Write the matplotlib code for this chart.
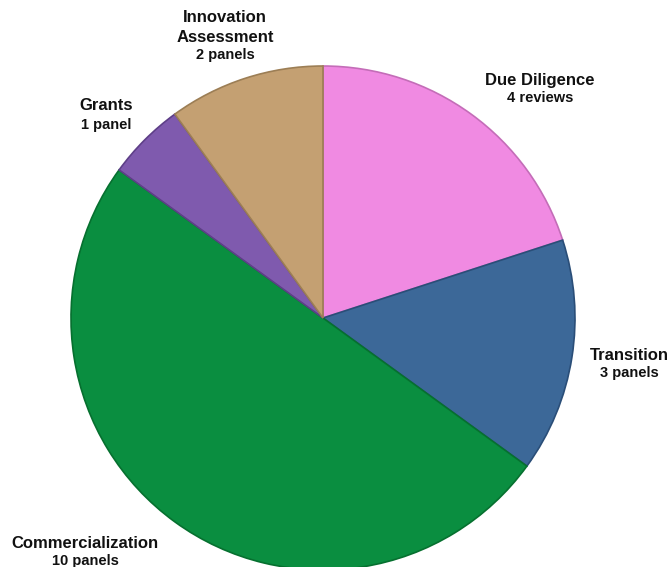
import matplotlib
matplotlib.use("Agg")
import matplotlib.pyplot as plt

categories = ["Due Diligence", "Transition", "Commercialization", "Grants", "Innovation Assessment"]
counts = [4, 3, 10, 1, 2]
units = ["reviews", "panels", "panels", "panel", "panels"]
colors = ["#F08AE2", "#3C6898", "#0A8E40", "#7F5AAE", "#C4A072"]
edges = ["#C46DB8", "#2A4E78", "#06702F", "#5E3F88", "#9C7E55"]

W, H = 671, 567
fig = plt.figure(figsize=(W / 100, H / 100), dpi=100)
ax = fig.add_axes([0, 0, 1, 1])

cx, cy, r = 323, H - 318, 252
wedges, _ = ax.pie(counts, colors=colors, startangle=90, counterclock=False,
                   center=(cx, cy), radius=r, frame=True,
                   wedgeprops=dict(linewidth=1.2))
for w, ec in zip(wedges, edges):
    w.set_edgecolor(ec)
ax.set_xlim(0, W)
ax.set_ylim(0, H)
ax.set_aspect("equal")
ax.axis("off")

# label lines: (x, y of each title line) in pixels from top-left
label_pos = {
    "Due Diligence": (540, [80]),
    "Transition": (629, [355]),
    "Commercialization": (85, [543]),
    "Grants": (106, [106]),
    "Innovation Assessment": (225, [18, 37]),
}
font = ["Liberation Sans", "DejaVu Sans"]
for cat, n, u in zip(categories, counts, units):
    x, ys = label_pos[cat]
    parts = cat.split(" ") if len(ys) > 1 else [cat]
    for part, y in zip(parts, ys):
        ax.text(x, H - y, part, ha="center", va="center", fontsize=12, fontweight="bold",
                family=font, color="#111111")
    ax.text(x, H - (ys[-1] + 18.5), f"{n} {u}", ha="center", va="center", fontsize=10.5,
            fontweight="bold", family=font, color="#111111")

fig.savefig("out.png", dpi=100)
